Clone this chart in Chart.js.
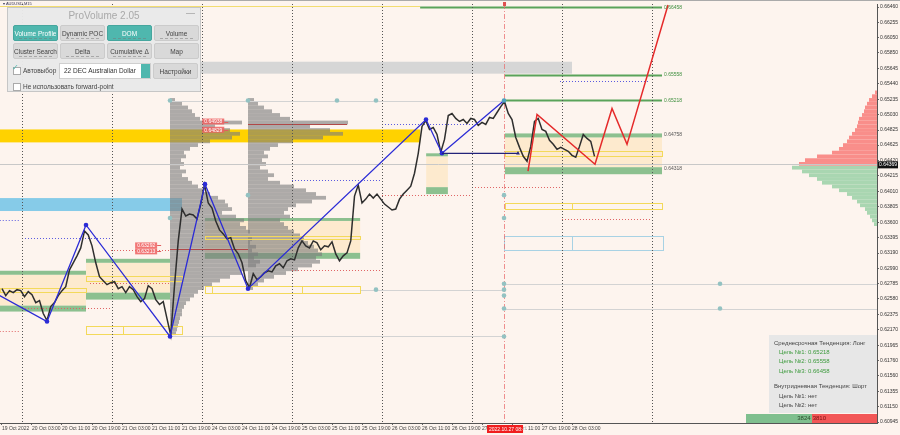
<!DOCTYPE html>
<html>
<head>
<meta charset="utf-8">
<script src="https://cdn.jsdelivr.net/npm/chart.js@4.4.1/dist/chart.umd.min.js"></script>
<style>
  html, body { margin: 0; padding: 0; background: #fdf4ee; }
  #wrap { position: relative; width: 900px; height: 435px; overflow: hidden; font-family: "Liberation Sans", Arial, sans-serif; }
  #chart { position: absolute; left: 0; top: 0; }
  .sym { position: absolute; left: 3px; top: 1px; font-size: 4px; color: #335; }
  .panel { position: absolute; left: 7px; top: 7px; width: 194px; height: 85px; background: rgba(233,233,233,0.97); border: 1px solid #c6c6c6; box-sizing: border-box; }
  .panel .title { position: absolute; left: 0; right: 0; top: 2px; text-align: center; font-size: 10px; color: #a9a9a9; }
  .panel .min { position: absolute; right: 5px; top: 0px; font-size: 9px; color: #999; }
  .btn { position: absolute; width: 45px; height: 16px; background: #d9d9d9; border: 1px solid #cbcbcb; border-radius: 2px; box-sizing: border-box; font-size: 6.5px; line-height: 15px; color: #444; text-align: center; }
  .btn.on { background: #4fb7ae; border-color: #46a69e; color: #fff; }
  .btn i { position: absolute; left: 5px; right: 5px; bottom: 1px; height: 1px; border-bottom: 1px dashed rgba(120,120,120,0.5); }
  .chk { position: absolute; width: 6px; height: 6px; background: #fff; border: 1px solid #aaa; }
  .lbl { position: absolute; font-size: 6.5px; color: #444; white-space: nowrap; }
  .drop { position: absolute; left: 51px; top: 55px; width: 92px; height: 16px; background: #fff; border: 1px solid #cfcfcf; box-sizing: border-box; font-size: 6.5px; line-height: 14px; padding-left: 4px; color: #333; }
  .drop b { position: absolute; right: 0; top: 0; width: 9px; height: 14px; background: #4fb7ae; }
  .info { position: absolute; left: 769px; top: 335px; width: 108px; height: 78px; background: rgba(230,230,230,0.96); font-size: 6px; color: #444; }
  .info div { position: absolute; white-space: nowrap; }
  .info .g { color: #3d9a3d; }
  .vbar { position: absolute; left: 746px; top: 414px; width: 131px; height: 9px; display: flex; font-size: 6px; line-height: 9px; }
  .vbar .buy { flex: 3824; background: #7fbf8e; text-align: right; color: #2d4d2d; padding-right: 1px; }
  .vbar .sell { flex: 3810; background: #f25757; color: #7a1010; padding-left: 1px; }
</style>
</head>
<body>
<div id="wrap">
  <canvas id="chart" width="900" height="435"></canvas>
  <div class="sym">▾ AUDUSD,M15</div>
  <div class="panel">
    <div class="title">ProVolume 2.05</div>
    <div class="min">—</div>
    <div class="btn on" style="left:5px;top:17px">Volume Profile<i></i></div>
    <div class="btn" style="left:52px;top:17px">Dynamic POC<i></i></div>
    <div class="btn on" style="left:99px;top:17px">DOM<i></i></div>
    <div class="btn" style="left:146px;top:17px">Volume<i></i></div>
    <div class="btn" style="left:5px;top:35px">Cluster Search<i></i></div>
    <div class="btn" style="left:52px;top:35px">Delta<i></i></div>
    <div class="btn" style="left:99px;top:35px">Cumulative Δ<i></i></div>
    <div class="btn" style="left:146px;top:35px">Map</div>
    <div class="chk" style="left:5px;top:59px"></div>
    <div class="lbl" style="left:4px;top:55px;color:#4fb7ae;font-size:8px">✓</div>
    <div class="lbl" style="left:15px;top:59px">Автовыбор</div>
    <div class="drop">22 DEC Australian Dollar<b></b></div>
    <div class="btn" style="left:145px;top:55px">Настройки</div>
    <div class="chk" style="left:5px;top:75px"></div>
    <div class="lbl" style="left:15px;top:75px">Не использовать forward-point</div>
  </div>
  <div class="info">
    <div style="left:5px;top:5px">Среднесрочная Тенденция: Лонг</div>
    <div class="g" style="left:10px;top:14px">Цель №1: 0.65218</div>
    <div class="g" style="left:10px;top:23px">Цель №2: 0.65558</div>
    <div class="g" style="left:10px;top:33px">Цель №3: 0.66458</div>
    <div style="left:5px;top:48px">Внутридневная Тенденция: Шорт</div>
    <div style="left:10px;top:58px">Цель №1: нет</div>
    <div style="left:10px;top:67px">Цель №2: нет</div>
  </div>
  <div class="vbar"><div class="buy">3824</div><div class="sell">3810</div></div>
</div>
<script>
// time axis: hours counted from the "19 Oct 2022" label (weekend skipped)
const xTickHours = [0, 8, 16, 24, 32, 40, 48, 56, 64, 72, 80, 88, 96, 104, 112, 120, 128, 136, 144, 152];
const xTickLabels = ['19 Oct 2022', '20 Oct 03:00', '20 Oct 11:00', '20 Oct 19:00', '21 Oct 03:00', '21 Oct 11:00',
  '21 Oct 19:00', '24 Oct 03:00', '24 Oct 11:00', '24 Oct 19:00', '25 Oct 03:00', '25 Oct 11:00', '25 Oct 19:00',
  '26 Oct 03:00', '26 Oct 11:00', '26 Oct 19:00', '27 Oct 03:00', '27 Oct 11:00', '27 Oct 19:00', '28 Oct 03:00'];
const yTickValues = [0.66460, 0.66255, 0.66050, 0.65850, 0.65645, 0.65440, 0.65235, 0.65030, 0.64825, 0.64625,
  0.64420, 0.64215, 0.64010, 0.63805, 0.63600, 0.63395, 0.63190, 0.62990, 0.62785, 0.62580, 0.62375, 0.62170,
  0.61965, 0.61760, 0.61560, 0.61355, 0.61150, 0.60945];
const currentPrice = 0.64369;
const daySeparators = [5.25, 29.25, 53.25, 77.25, 101.25, 125.25, 149.25, 173.25];

// AUDUSD hourly closes
const closes = [
  0.62717, 0.62625, 0.62691, 0.62664, 0.62704, 0.62691, 0.62611, 0.62678, 0.62638, 0.62532,
  0.62559, 0.62387, 0.62294, 0.62479, 0.62532, 0.62625, 0.62691, 0.62744, 0.62968, 0.63061,
  0.63154, 0.63259, 0.63484, 0.63431, 0.63286, 0.63061, 0.62876, 0.62823, 0.62770, 0.62797,
  0.62810, 0.62717, 0.62744, 0.62664, 0.62744, 0.62704, 0.62611, 0.62545, 0.62585, 0.62757,
  0.62717, 0.62572, 0.62506, 0.62545, 0.62320, 0.62096, 0.62757, 0.63352, 0.63775, 0.63683,
  0.63709, 0.63696, 0.63643, 0.63841, 0.64100, 0.63855, 0.63788, 0.63617, 0.63498, 0.63445,
  0.63378, 0.63395, 0.63246, 0.63180, 0.63061, 0.62823, 0.62730, 0.62916, 0.62836, 0.62876,
  0.62929, 0.62955, 0.62940, 0.63021, 0.63048, 0.62995, 0.63088, 0.63114, 0.63100, 0.63259,
  0.63352, 0.63286, 0.63259, 0.63352, 0.63326, 0.63233, 0.63286, 0.63273, 0.63339, 0.63180,
  0.63088, 0.63154, 0.63193, 0.63352, 0.63947, 0.64093, 0.63855, 0.63907, 0.63974, 0.63921,
  0.63974, 0.63907, 0.63841, 0.63802, 0.63762, 0.63775, 0.63907, 0.63974, 0.64026, 0.64079,
  0.64251, 0.64516, 0.64873, 0.64952, 0.64833, 0.64860, 0.64767, 0.64530, 0.64701, 0.65018,
  0.65045, 0.64979, 0.64939, 0.64965, 0.64913, 0.64979, 0.64965, 0.64886, 0.64926, 0.64899,
  0.64992, 0.64979, 0.65058, 0.65137, 0.65204, 0.65045, 0.64965, 0.64727, 0.64595, 0.64476,
  0.64410, 0.64608, 0.64939, 0.64979, 0.64833, 0.64807, 0.64688, 0.64635, 0.64569, 0.64595,
  0.64569, 0.64542, 0.64489, 0.64463, 0.64608, 0.64767, 0.64714, 0.64675, 0.64476
];

// swing zigzag and forecast
const swingHours = [-0.6, 12, 22.4, 44.8, 54.13, 65.6, 113.07, 117.33, 133.87];
const swingPrices = [0.62625, 0.62281, 0.63564, 0.62082, 0.64106, 0.62717, 0.64965, 0.64516, 0.65217];
const baseHours = [117.33, 137.6];
const basePrices = [0.64516, 0.64516];
const forecastHours = [140.27, 142.67, 158.13, 162.67, 166.67, 177.6];
const forecastPrices = [0.64278, 0.65032, 0.64370, 0.65111, 0.64635, 0.66486];

// horizontal bands [from, to, low, high]
const goldBand = [-0.6, 111.5, 0.64661, 0.64833];
const blueBand = [-0.6, 48, 0.63749, 0.63921];
const greyBand = [52.8, 152, 0.65574, 0.65733];

// demand zones
const zoneFrom = [-0.6, 22.4, 54.1, 113.1, 134.1];
const zoneTo = [22.4, 44.8, 95.5, 118.9, 176];
const zoneTop = [0.62955, 0.63114, 0.63656, 0.64516, 0.64780];
const zoneInnerTop = [0.62902, 0.63061, 0.63617, 0.64476, 0.64727];
const zoneInnerBottom = [0.62492, 0.62664, 0.63193, 0.64066, 0.64331];
const zoneBottom = [0.62413, 0.62572, 0.63114, 0.63974, 0.64238];

// outline boxes [from, to, high, low, splits]
const yellowBoxes = [
  [-0.6, 22.4, 0.62730, 0.62678, []],
  [22.4, 48, 0.62889, 0.62823, []],
  [22.4, 48, 0.62215, 0.62109, [32.27]],
  [54.1, 95.5, 0.63418, 0.63378, []],
  [54.1, 95.5, 0.62757, 0.62664, [56, 80]],
  [134.1, 176, 0.64542, 0.64476, []],
  [134.1, 176, 0.63855, 0.63775, [152]]
];
const blueBoxes = [[133.9, 176.3, 0.63418, 0.63233, [152]]];

// previous day highs / lows
const highFrom = [-0.6, 5.33, 77.33, 101.33, 148.8];
const highTo = [4.8, 29.07, 100.8, 125.33, 172.8];
const highPrice = [0.63630, 0.63392, 0.64159, 0.64899, 0.65481];
const lowFrom = [-0.6, 5.33, 23.47, 29.07, 77.33, 101.33, 125.33, 149.33];
const lowTo = [4.8, 29.07, 44.8, 44.8, 100.8, 125.33, 149.33, 172.8];
const lowPrice = [0.62149, 0.62466, 0.62797, 0.63233, 0.62968, 0.63960, 0.64066, 0.63643];

// plain levels [from, to, price]
const greyLevels = [[44.8, 133.87, 0.65217], [133.87, 233.4, 0.62783], [95.5, 133.87, 0.62704],
  [133.87, 233.4, 0.62453], [44.8, 133.87, 0.62082]];
const pocLevels = [[44.8, 65.6, 0.63246], [65.6, 92, 0.64899]];
const levelDotHours = [44.8, 65.6, 89.33, 99.73, 44.8, 65.6, 99.73, 133.87, 133.87, 133.87, 133.87, 133.87, 133.87, 133.87, 191.47, 191.47];
const levelDotPrices = [0.65217, 0.65217, 0.65217, 0.65217, 0.63656, 0.63960, 0.62704, 0.63960, 0.63656, 0.62783, 0.62704, 0.62625, 0.62453, 0.62082, 0.62783, 0.62453];

// targets
const targetFrom = [111.5, 134.1, 134.1];
const targetTo = [176, 176, 176];
const targetPrices = [0.66458, 0.65558, 0.65218];
const zoneLabels = [0.64758, 0.64318];
const redTags = [[53.4, 0.64938], [53.4, 0.64829], [35.5, 0.63292], [35.5, 0.63213]];
const markerHour = 133.87;
const markerLabel = '2022.10.27 08:45';
const topLinePrice = 0.66473;

// volume profiles: widths per 0.0005 price bin from the top price
const binStep = 0.0005;
const volToHours = 1 / 3.75;
const profile1Base = 44.8, profile1Top = 0.6525;
const profile1 = [5, 12, 18, 22, 25, 30, 72, 45, 60, 70, 62, 40, 28, 20, 14, 16, 11, 14, 10, 16,
  12, 18, 22, 28, 34, 40, 48, 55, 58, 62, 52, 66, 74, 70, 76, 80, 78, 82, 80, 86,
  82, 88, 84, 90, 86, 78, 72, 60, 50, 42, 34, 28, 24, 20, 16, 14, 12, 12, 10, 9, 8, 7, 6];
const profile2Base = 65.6, profile2Top = 0.6525;
const profile2 = [6, 10, 16, 24, 32, 42, 100, 62, 82, 95, 75, 45, 30, 22, 16, 20, 14, 18, 12, 20,
  26, 20, 32, 46, 58, 68, 78, 64, 48, 40, 36, 42, 32, 36, 40, 46, 52, 56, 60, 66,
  70, 74, 68, 72, 64, 50, 38, 26, 16, 10, 5];
const domTop = 0.6535;
const domSell = [2, 5, 8, 10, 12, 13, 15, 18, 19, 20, 22, 25, 28, 30, 34, 38, 45, 60, 72, 78];
const domBuy = [85, 75, 68, 60, 55, 45, 38, 30, 25, 20, 17, 12, 10, 7, 5, 3];

const pts = (xs, ys) => xs.map((x, i) => ({ x: x, y: ys[i] }));

const overlays = {
  id: 'overlays',
  beforeDraw(chart) {
    const c = chart.ctx;
    c.save();
    c.fillStyle = '#fdf4ee';
    c.fillRect(0, 0, chart.width, chart.height);
    c.restore();
  },
  beforeDatasetsDraw(chart) {
    const c = chart.ctx, xs = chart.scales.x, ys = chart.scales.y, a = chart.chartArea;
    const X = v => xs.getPixelForValue(v), Y = v => ys.getPixelForValue(v);
    const rect = (h1, h2, p1, p2, col) => {
      const y1 = Y(Math.max(p1, p2)), y2 = Y(Math.min(p1, p2));
      c.fillStyle = col;
      c.fillRect(X(h1), y1, X(h2) - X(h1), y2 - y1);
    };
    const hline = (h1, h2, p, col, w, dash) => {
      c.beginPath();
      c.setLineDash(dash || []);
      c.strokeStyle = col; c.lineWidth = w;
      const y = Math.round(Y(p)) + 0.5;
      c.moveTo(X(h1), y); c.lineTo(X(h2), y);
      c.stroke();
      c.setLineDash([]);
    };
    c.save();
    c.beginPath(); c.rect(a.left, a.top, a.right - a.left, a.bottom - a.top); c.clip();

    rect(goldBand[0], goldBand[1], goldBand[2], goldBand[3], '#ffd200');
    rect(blueBand[0], blueBand[1], blueBand[2], blueBand[3], '#86cbe8');
    rect(greyBand[0], greyBand[1], greyBand[2], greyBand[3], '#d6d6d6');

    zoneFrom.forEach((f, i) => {
      rect(f, zoneTo[i], zoneInnerTop[i], zoneInnerBottom[i], 'rgba(253,226,185,0.6)');
      rect(f, zoneTo[i], zoneTop[i], zoneInnerTop[i], '#8cc08f');
      rect(f, zoneTo[i], zoneInnerBottom[i], zoneBottom[i], '#8cc08f');
    });

    const profile = (base, top, widths) => {
      widths.forEach((w, i) => {
        rect(base, base + w * volToHours, top - (i + 1) * binStep, top - i * binStep, 'rgba(125,125,125,0.62)');
      });
    };
    profile(profile1Base, profile1Top, profile1);
    profile(profile2Base, profile2Top, profile2);

    const right = xs.max;
    domSell.forEach((w, i) => rect(right - w * volToHours, right, domTop - (i + 1) * binStep, domTop - i * binStep, '#f98e8a'));
    domBuy.forEach((w, i) => {
      const t = domTop - domSell.length * binStep;
      rect(right - w * volToHours, right, t - (i + 1) * binStep, t - i * binStep, '#a9d6b1');
    });

    hline(xs.min, xs.max, currentPrice, '#c8c8c8', 1);
    greyLevels.forEach(l => hline(l[0], l[1], l[2], '#d3d3d3', 1));
    pocLevels.forEach(l => hline(l[0], l[1], l[2], '#b04848', 1));
    hline(goldBand[0], targetFrom[0], topLinePrice, '#f2dc70', 1);

    highFrom.forEach((f, i) => hline(f, highTo[i], highPrice[i], '#5a5ae0', 1, [1, 2]));
    lowFrom.forEach((f, i) => hline(f, lowTo[i], lowPrice[i], '#e06464', 1, [1, 2]));

    const box = (b, col) => {
      c.strokeStyle = col; c.lineWidth = 1;
      const x1 = Math.round(X(b[0])) + 0.5, x2 = Math.round(X(b[1])) + 0.5;
      const y1 = Math.round(Y(b[2])) + 0.5, y2 = Math.round(Y(b[3])) + 0.5;
      c.strokeRect(x1, y1, x2 - x1, Math.max(y2 - y1, 2));
      b[4].forEach(s => {
        const xx = Math.round(X(s)) + 0.5;
        c.beginPath(); c.moveTo(xx, y1); c.lineTo(xx, y1 + Math.max(y2 - y1, 2)); c.stroke();
      });
    };
    yellowBoxes.forEach(b => box(b, '#f3d95a'));
    blueBoxes.forEach(b => box(b, '#a8d2e4'));

    targetPrices.forEach((p, i) => hline(targetFrom[i], targetTo[i], p, '#5aa35a', 2));

    daySeparators.forEach(h => {
      const x = Math.round(X(h)) + 0.5;
      c.beginPath(); c.setLineDash([1, 2]); c.strokeStyle = '#555'; c.lineWidth = 1;
      c.moveTo(x, a.top); c.lineTo(x, a.bottom); c.stroke();
    });
    const mx = Math.round(X(markerHour)) + 0.5;
    c.beginPath(); c.setLineDash([5, 2, 1, 2]); c.strokeStyle = 'rgba(232,110,110,0.75)';
    c.moveTo(mx, a.top); c.lineTo(mx, a.bottom); c.stroke();
    c.setLineDash([]);

    c.fillStyle = '#93c2c2';
    levelDotHours.forEach((h, i) => {
      c.beginPath(); c.arc(X(h), Y(levelDotPrices[i]), 2.3, 0, Math.PI * 2); c.fill();
    });
    c.restore();
  },
  afterDatasetsDraw(chart) {
    const c = chart.ctx, xs = chart.scales.x, ys = chart.scales.y;
    const X = v => xs.getPixelForValue(v), Y = v => ys.getPixelForValue(v);
    c.save();
    c.font = '5px "Liberation Sans", Arial';
    c.textBaseline = 'middle';
    targetPrices.forEach(p => {
      c.fillStyle = '#3f8f3f';
      c.fillText(p.toFixed(5), X(176) + 2, Y(p));
    });
    zoneLabels.forEach(p => {
      c.fillStyle = '#555';
      c.fillText(p.toFixed(5), X(176) + 2, Y(p));
    });
    redTags.forEach(t => {
      const x = X(t[0]), y = Y(t[1]);
      c.fillStyle = 'rgba(238,96,96,0.85)';
      c.fillRect(x, y - 3, 22, 6);
      c.fillStyle = '#fff';
      c.fillText(t[1].toFixed(5), x + 2, y + 0.5);
      c.strokeStyle = '#e06060'; c.lineWidth = 1;
      c.beginPath(); c.moveTo(x + 22, Math.round(y) + 0.5); c.lineTo(x + 26, Math.round(y) + 0.5); c.stroke();
    });
    c.restore();
  },
  afterDraw(chart) {
    const c = chart.ctx, xs = chart.scales.x, ys = chart.scales.y, a = chart.chartArea;
    c.save();
    c.font = '5px "Liberation Sans", Arial';
    c.textBaseline = 'middle';
    const py = ys.getPixelForValue(currentPrice);
    c.fillStyle = '#111';
    c.fillRect(a.right + 1, py - 3, 20, 7);
    c.fillStyle = '#fff';
    c.fillText(currentPrice.toFixed(5), a.right + 2, py + 0.5);
    const mx = xs.getPixelForValue(markerHour);
    c.fillStyle = '#f01e1e';
    c.fillRect(mx - 17, a.bottom + 2, 36, 8);
    c.fillStyle = '#fff';
    c.fillText(markerLabel, mx - 15, a.bottom + 6.5);
    c.fillStyle = '#e05050';
    c.fillRect(mx - 1, a.top - 2, 3, 4);
    c.strokeStyle = '#aaa'; c.lineWidth = 1;
    c.beginPath(); c.moveTo(0, 0.5); c.lineTo(chart.width, 0.5); c.stroke();
    c.restore();
  }
};

new Chart(document.getElementById('chart'), {
  type: 'scatter',
  data: {
    datasets: [
      {
        label: 'AUDUSD',
        data: closes.map((p, k) => ({ x: k, y: p })),
        showLine: true,
        borderColor: '#2e2e2e',
        borderWidth: 1.5,
        pointRadius: 0,
        order: 4
      },
      {
        label: 'Swings',
        data: pts(swingHours, swingPrices),
        showLine: true,
        borderColor: '#2b2bd6',
        borderWidth: 1.3,
        pointRadius: swingHours.map((h, i) => (i === 0 ? 0 : 2.3)),
        pointBackgroundColor: swingHours.map((h, i) => (i === swingHours.length - 1 ? '#4ea3c0' : '#2b2bd6')),
        pointBorderWidth: 0,
        order: 3
      },
      {
        label: 'Base',
        data: pts(baseHours, basePrices),
        showLine: true,
        borderColor: '#23237a',
        borderWidth: 1.2,
        pointRadius: [0, 2.2],
        pointStyle: 'triangle',
        pointBackgroundColor: '#23237a',
        pointBorderWidth: 0,
        order: 2
      },
      {
        label: 'Forecast',
        data: pts(forecastHours, forecastPrices),
        showLine: true,
        borderColor: '#e52a2a',
        borderWidth: 1.5,
        pointRadius: 0,
        order: 1
      }
    ]
  },
  options: {
    responsive: false,
    animation: false,
    layout: { autoPadding: false, padding: { top: 2, left: 0, right: 0, bottom: 0 } },
    plugins: {
      legend: { display: false },
      tooltip: { enabled: false }
    },
    scales: {
      x: {
        type: 'linear',
        min: -0.533,
        max: 233.33,
        afterBuildTicks: s => { s.ticks = xTickHours.map(v => ({ value: v })); },
        afterFit: s => { s.height = 12; },
        grid: { drawOnChartArea: false, tickLength: 2, color: '#666' },
        border: { color: '#555' },
        ticks: {
          align: 'start',
          autoSkip: false,
          maxRotation: 0,
          padding: 1,
          color: '#444',
          font: { size: 5, family: '"Liberation Sans", Arial' },
          callback: (v, i) => xTickLabels[i]
        }
      },
      y: {
        position: 'right',
        min: 0.60932,
        max: 0.66500,
        afterBuildTicks: s => { s.ticks = yTickValues.map(v => ({ value: v })); },
        afterFit: s => { s.width = 23; },
        grid: { drawOnChartArea: false, tickLength: 2, color: '#666' },
        border: { color: '#555' },
        ticks: {
          autoSkip: false,
          padding: 1,
          color: '#333',
          font: { size: 5, family: '"Liberation Sans", Arial' },
          callback: v => v.toFixed(5)
        }
      }
    }
  },
  plugins: [overlays]
});
</script>
</body>
</html>
